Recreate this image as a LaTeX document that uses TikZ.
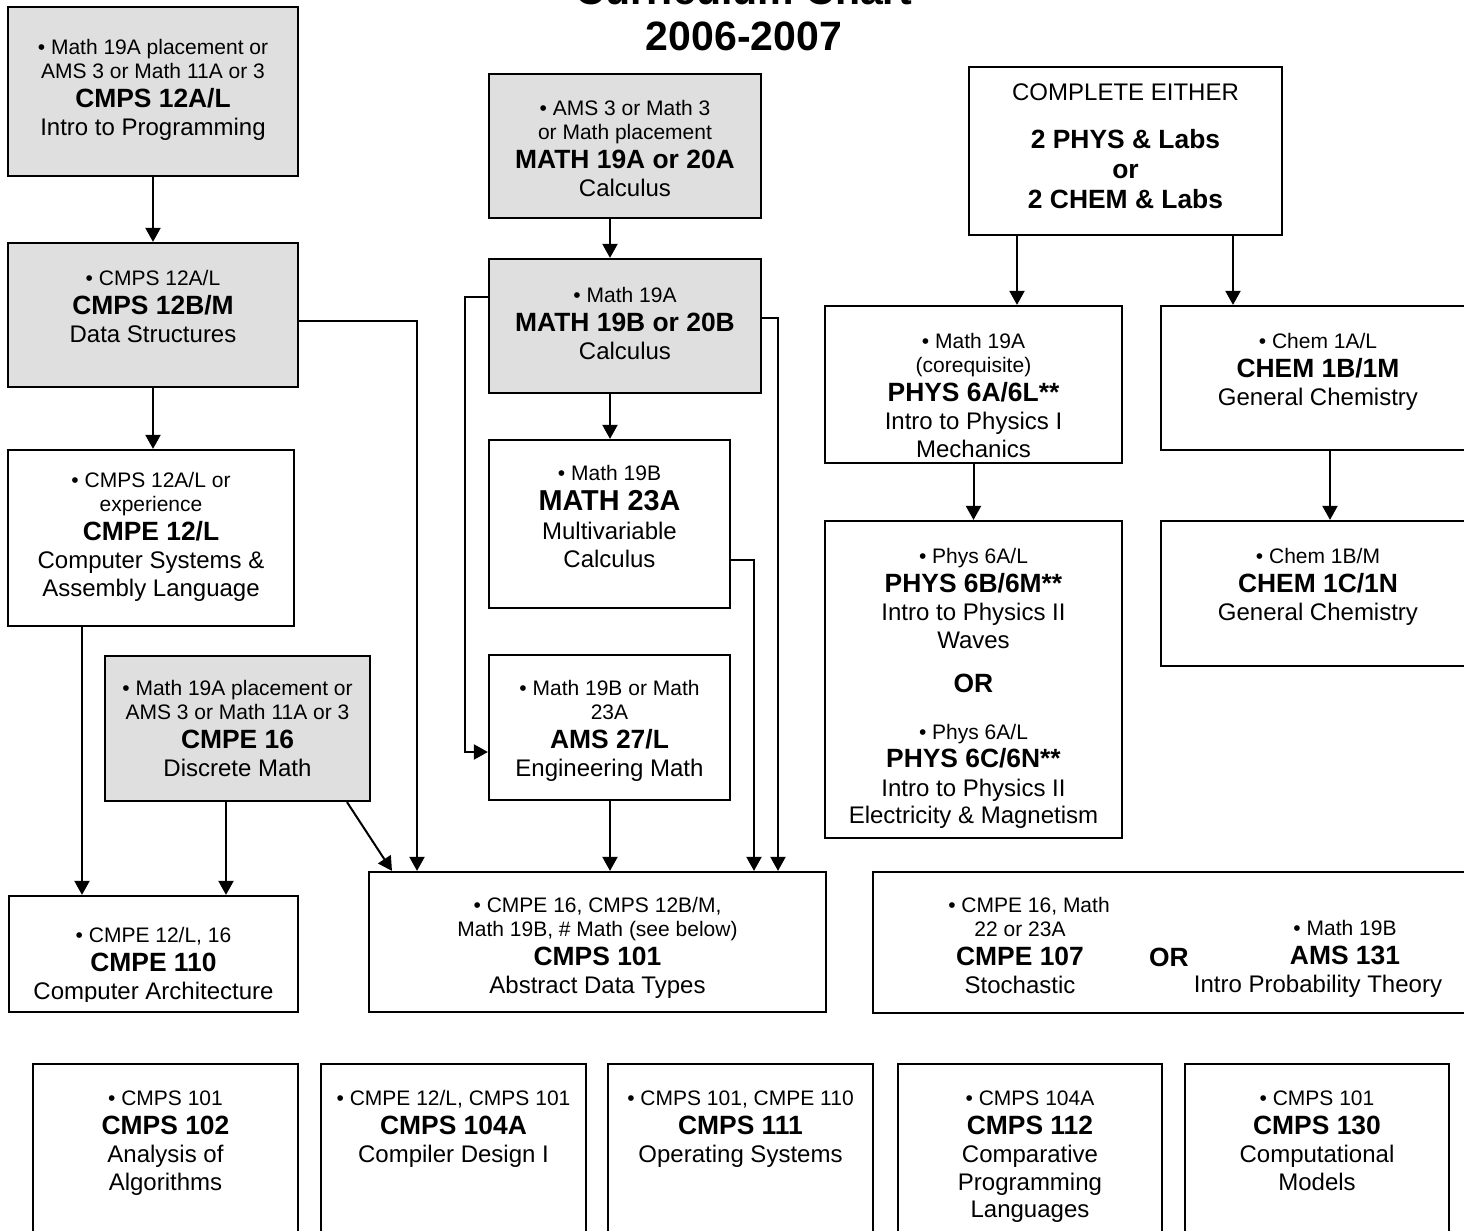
\documentclass[tikz,border=0pt]{standalone}
\usepackage{fontspec}
\setmainfont{Liberation Sans}
\usetikzlibrary{arrows.meta,positioning,fit}
\definecolor{boxgray}{HTML}{DFDFDF}
\newcommand{\prq}{\fontsize{10.5}{1}\selectfont\rule[-3.5pt]{0pt}{11.1pt}}
\newcommand{\crs}{\fontsize{13.2}{1}\selectfont\bfseries\rule[-4.2pt]{0pt}{14pt}}
\newcommand{\crsbig}{\fontsize{14.4}{1}\selectfont\bfseries\rule[-4.6pt]{0pt}{15pt}}
\newcommand{\dsc}{\fontsize{12}{1}\selectfont\rule[-3.8pt]{0pt}{12.8pt}}
\tikzset{
box/.style={draw, line width=1.1pt, inner sep=0pt}, % a course box
graybox/.style={box, fill=boxgray}, % lower division course
txt/.style={anchor=north, yshift=7.6pt, align=center, inner sep=0pt,
  font=\fontsize{1}{1}\selectfont}, % text of a box, placed by its first baseline
req/.style={line width=1pt, -{Triangle[length=7pt,width=7.5pt]}}, % prerequisite arrow
}

\begin{document}
\begin{tikzpicture}[x=0.5pt,y=-0.5pt]
\useasboundingbox (0,0) rectangle (1464,1231);
\clip (0,0) rectangle (1464,1231);
\node[anchor=base, font=\fontsize{20.5}{24}\selectfont\bfseries] at (744,4) (title) {Curriculum Chart};
\node[anchor=base, font=\fontsize{20.5}{24}\selectfont\bfseries] at (744,50) (year) {2006-2007};

% boxes
\node[graybox, fit={(8,7) (298,176)}] (cmps12a) {};
\node[graybox, fit={(8,243) (298,387)}] (cmps12b) {};
\node[box, fit={(8,450) (294,626)}] (cmpe12) {};
\node[graybox, fit={(105,656) (370,801)}] (cmpe16) {};
\node[box, fit={(9,896) (298,1012)}] (cmpe110) {};
\node[graybox, fit={(489,74) (761,218)}] (math19a) {};
\node[graybox, fit={(489,259) (761,393)}] (math19b) {};
\node[box, fit={(489,440) (730,608)}] (math23a) {};
\node[box, fit={(489,655) (730,800)}] (ams27) {};
\node[box, fit={(369,872) (826,1012)}] (cmps101) {};
\node[box, fit={(969,67) (1282,235)}] (either) {};
\node[box, fit={(825,306) (1122,463)}] (phys6a) {};
\node[box, fit={(1161,306) (1475,450)}] (chem1b) {};
\node[box, fit={(825,521) (1122,838)}] (phys6b) {};
\node[box, fit={(1161,521) (1475,666)}] (chem1c) {};
\node[box, fit={(873,872) (1480,1013)}] (prob) {};
\node[box, fit={(33,1064) (298,1260)}] (cmps102) {};
\node[box, fit={(321,1064) (586,1260)}] (cmps104a) {};
\node[box, fit={(608,1064) (873,1260)}] (cmps111) {};
\node[box, fit={(898,1064) (1162,1260)}] (cmps112) {};
\node[box, fit={(1185,1064) (1449,1260)}] (cmps130) {};

% texts
\node[txt] at (153,54) (cmps12a-t) {\prq\textbullet\ Math 19A placement or\\\prq AMS 3 or Math 11A or 3\\\crs CMPS 12A/L\\\dsc Intro to Programming};
\node[txt] at (153,285) (cmps12b-t) {\prq\textbullet\ CMPS 12A/L\\\crs CMPS 12B/M\\\dsc Data Structures};
\node[txt] at (151,487) (cmpe12-t) {\prq\textbullet\ CMPS 12A/L or\\\prq experience\\\crs CMPE 12/L\\\dsc Computer Systems \&\\\dsc Assembly Language};
\node[txt] at (237.5,695) (cmpe16-t) {\prq\textbullet\ Math 19A placement or\\\prq AMS 3 or Math 11A or 3\\\crs CMPE 16\\\dsc Discrete Math};
\begin{scope}
\clip (9,896) rectangle (298,1001);
\node[txt] at (153.5,942) (cmpe110-t) {\prq\textbullet\ CMPE 12/L, 16\\\crs CMPE 110\\\dsc Computer Architecture};
\end{scope}
\node[txt] at (625,115) (math19a-t) {\prq\textbullet\ AMS 3 or Math 3\\\prq or Math placement\\\crs MATH 19A or 20A\\\dsc Calculus};
\node[txt] at (625,302) (math19b-t) {\prq\textbullet\ Math 19A\\\crs MATH 19B or 20B\\\dsc Calculus};
\node[txt] at (609.5,480) (math23a-t) {\prq\textbullet\ Math 19B\\\crsbig MATH 23A\\\dsc Multivariable\\\dsc Calculus};
\node[txt] at (609.5,695) (ams27-t) {\prq\textbullet\ Math 19B or Math\\\prq 23A\\\crs AMS 27/L\\\dsc Engineering Math};
\node[txt] at (597.5,912) (cmps101-t) {\prq\textbullet\ CMPE 16, CMPS 12B/M,\\\prq Math 19B, \# Math (see below)\\\crs CMPS 101\\\dsc Abstract Data Types};
\node[txt, yshift=1.4pt] at (1125.5,100) (either-t) {\dsc COMPLETE EITHER\\[9.4pt]\crs 2 PHYS \& Labs\\\crs or\\\crs 2 CHEM \& Labs};
\node[txt] at (973.5,348) (phys6a-t) {\prq\textbullet\ Math 19A\\\prq (corequisite)\\\crs PHYS 6A/6L**\\\dsc Intro to Physics I\\\dsc Mechanics};
\node[txt] at (1318,348) (chem1b-t) {\prq\textbullet\ Chem 1A/L\\\crs CHEM 1B/1M\\\dsc General Chemistry};
\begin{scope}
\clip (825,521) rectangle (1122,827);
\node[txt] at (973.5,563) (phys6b-t) {\prq\textbullet\ Phys 6A/L\\\crs PHYS 6B/6M**\\\dsc Intro to Physics II\\\dsc Waves\\[7.4pt]\crs OR\\[10.7pt]\prq\textbullet\ Phys 6A/L\\\crs PHYS 6C/6N**\\\dsc Intro to Physics II\\\dsc Electricity \& Magnetism};
\end{scope}
\node[txt] at (1318,563) (chem1c-t) {\prq\textbullet\ Chem 1B/M\\\crs CHEM 1C/1N\\\dsc General Chemistry};
\node[txt] at (1020,912) (cmpe107-t) {\prq\hspace*{9pt}\textbullet\ CMPE 16, Math\\\prq 22 or 23A\\\crs CMPE 107\\\dsc Stochastic};
\node[anchor=base, inner sep=0pt] at (1169,966) (or-t) {\crs OR};
\node[txt] at (1318,935) (ams131-t) {\prq\hspace*{27pt}\textbullet\ Math 19B\\\crs\hspace*{27pt}AMS 131\\\dsc Intro Probability Theory};
\node[txt] at (165.5,1105) (cmps102-t) {\prq\textbullet\ CMPS 101\\\crs CMPS 102\\\dsc Analysis of\\\dsc Algorithms};
\node[txt] at (453.5,1105) (cmps104a-t) {\prq\textbullet\ CMPE 12/L, CMPS 101\\\crs CMPS 104A\\\dsc Compiler Design I};
\node[txt] at (740.5,1105) (cmps111-t) {\prq\textbullet\ CMPS 101, CMPE 110\\\crs CMPS 111\\\dsc Operating Systems};
\node[txt] at (1030,1105) (cmps112-t) {\prq\textbullet\ CMPS 104A\\\crs CMPS 112\\\dsc Comparative\\\dsc Programming\\\dsc Languages};
\node[txt] at (1317,1105) (cmps130-t) {\prq\textbullet\ CMPS 101\\\crs CMPS 130\\\dsc Computational\\\dsc Models};

% prerequisites
\draw[req] (cmps12a) -- (cmps12b);
\draw[req] (cmps12b.south) -- (cmps12b.south |- cmpe12.north);
\draw[req] ([yshift=-3pt]cmps12b.east) -| (417,0 |- cmps101.north);
\draw[req] (82,0 |- cmpe12.south) -- (82,0 |- cmpe110.north);
\draw[req] (226,0 |- cmpe16.south) -- (226,0 |- cmpe110.north);
\draw[req] (347,0 |- cmpe16.south) -- (392,0 |- cmps101.north);
\draw[req] (610,0 |- math19a.south) -- (610,0 |- math19b.north);
\draw[req] (610,0 |- math19b.south) -- (610,0 |- math23a.north);
\draw[req] (610,0 |- ams27.south) -- (610,0 |- cmps101.north);
\draw[req] (math19b.west |- 0,297) -- (465,297) |- (ams27.west |- 0,752);
\draw[req] (math19b.east |- 0,318) -| (778,0 |- cmps101.north);
\draw[req] (math23a.east |- 0,560) -| (754,0 |- cmps101.north);
\draw[req] (1017,0 |- either.south) -- (1017,0 |- phys6a.north);
\draw[req] (1233,0 |- either.south) -- (1233,0 |- chem1b.north);
\draw[req] (phys6a) -- (phys6b);
\draw[req] (1330,0 |- chem1b.south) -- (1330,0 |- chem1c.north);
\end{tikzpicture}
\end{document}
